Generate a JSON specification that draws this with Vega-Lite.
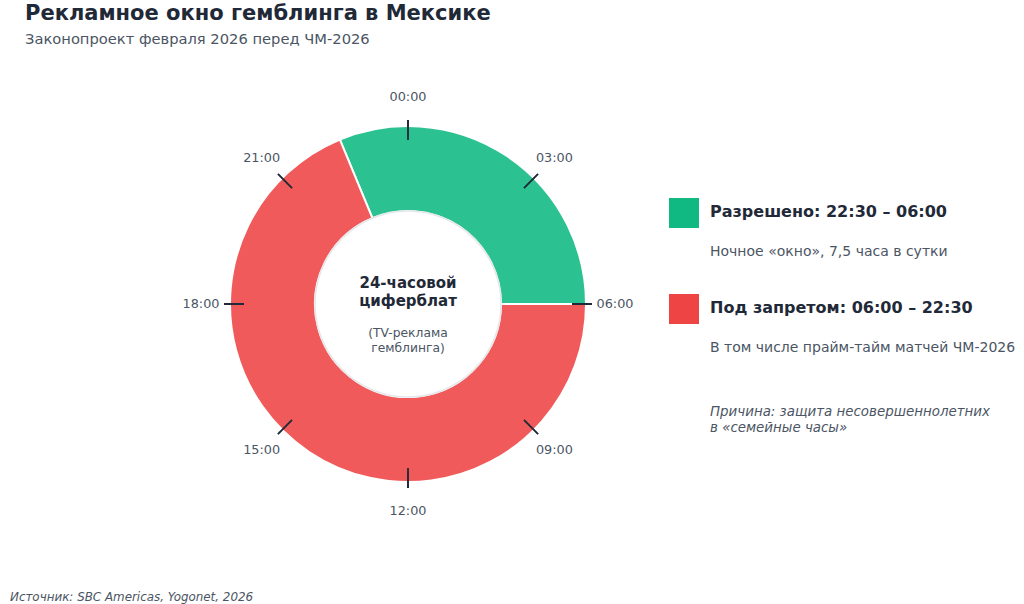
{
  "$schema": "https://vega.github.io/schema/vega-lite/v6.json",
  "width": 1024,
  "height": 604,
  "autosize": {"type": "fit", "contains": "padding"},
  "padding": {"left": 0, "right": 0, "top": 3, "bottom": 0},
  "background": "#ffffff",
  "view": {"stroke": null},
  "config": {"font": "DejaVu Sans"},
  "title": {
    "text": "Рекламное окно гемблинга в Мексике",
    "subtitle": "Законопроект февраля 2026 перед ЧМ-2026",
    "anchor": "start",
    "frame": "group",
    "dx": 25,
    "offset": 3,
    "font": "DejaVu Sans",
    "fontSize": 21,
    "fontWeight": "bold",
    "color": "#1f2937",
    "subtitleFont": "DejaVu Sans",
    "subtitleFontSize": 14.7,
    "subtitleColor": "#4b5563",
    "subtitlePadding": 8
  },
  "datasets": {
    "segments": [
      {"status": "Разрешено", "hours": 7.5},
      {"status": "Под запретом", "hours": 16.5}
    ],
    "clock": [
      {"hour": 0, "label": "00:00"},
      {"hour": 3, "label": "03:00"},
      {"hour": 6, "label": "06:00"},
      {"hour": 9, "label": "09:00"},
      {"hour": 12, "label": "12:00"},
      {"hour": 15, "label": "15:00"},
      {"hour": 18, "label": "18:00"},
      {"hour": 21, "label": "21:00"}
    ]
  },
  "data": {"values": [{}]},
  "resolve": {"scale": {"theta": "independent", "color": "independent"}},
  "layer": [
    {
      "data": {"name": "segments"},
      "mark": {"type": "arc", "innerRadius": 93, "outerRadius": 178, "stroke": "#ffffff", "strokeWidth": 2, "opacity": 0.88},
      "encoding": {
        "x": {"datum": 408, "type": "quantitative", "scale": {"domain": [0, 1024], "nice": false, "zero": false}, "axis": null},
        "y": {"datum": 304, "type": "quantitative", "scale": {"domain": [50, 604], "nice": false, "zero": false, "reverse": true}, "axis": null},
        "theta": {"field": "hours", "type": "quantitative", "stack": true, "scale": {"domain": [0, 24], "range": [-0.3927, 5.8905]}},
        "order": {"field": "hours", "type": "quantitative", "sort": "ascending"},
        "color": {"field": "status", "type": "nominal", "scale": {"domain": ["Разрешено", "Под запретом"], "range": ["#10B981", "#EF4444"]}, "legend": null}
      }
    },
    {
      "mark": {"type": "point", "shape": "circle", "filled": true, "size": 34596, "fill": "#ffffff", "stroke": "#e5e7eb", "strokeWidth": 1.5, "opacity": 1},
      "encoding": {
        "x": {"datum": 408, "type": "quantitative", "scale": {"domain": [0, 1024], "nice": false, "zero": false}, "axis": null},
        "y": {"datum": 304, "type": "quantitative", "scale": {"domain": [50, 604], "nice": false, "zero": false, "reverse": true}, "axis": null}
      }
    },
    {
      "data": {"name": "clock"},
      "mark": {"type": "arc", "innerRadius": 164, "outerRadius": 184, "thetaOffset": -0.0055, "theta2Offset": 0.0055, "color": "#1f2937"},
      "encoding": {
        "x": {"datum": 408, "type": "quantitative", "scale": {"domain": [0, 1024], "nice": false, "zero": false}, "axis": null},
        "y": {"datum": 304, "type": "quantitative", "scale": {"domain": [50, 604], "nice": false, "zero": false, "reverse": true}, "axis": null},
        "theta": {"field": "hour", "type": "quantitative", "scale": {"domain": [0, 24], "range": [0, 6.283185]}},
        "theta2": {"field": "hour"}
      }
    },
    {
      "data": {"name": "clock"},
      "mark": {"type": "text", "radius": 207, "fontSize": 12.8, "color": "#4b5563", "align": "center", "baseline": "middle"},
      "encoding": {
        "x": {"datum": 408, "type": "quantitative", "scale": {"domain": [0, 1024], "nice": false, "zero": false}, "axis": null},
        "y": {"datum": 304, "type": "quantitative", "scale": {"domain": [50, 604], "nice": false, "zero": false, "reverse": true}, "axis": null},
        "theta": {"field": "hour", "type": "quantitative", "scale": {"domain": [0, 24], "range": [0, 6.283185]}},
        "text": {"field": "label"}
      }
    },
    {
      "mark": {"type": "text", "text": ["24-часовой", "циферблат"], "lineHeight": 18, "fontSize": 15, "fontWeight": "bold", "color": "#1f2937", "align": "center", "baseline": "middle"},
      "encoding": {
        "x": {"datum": 408, "type": "quantitative", "scale": {"domain": [0, 1024], "nice": false, "zero": false}, "axis": null},
        "y": {"datum": 283, "type": "quantitative", "scale": {"domain": [50, 604], "nice": false, "zero": false, "reverse": true}, "axis": null}
      }
    },
    {
      "mark": {"type": "text", "text": ["(TV-реклама", "гемблинга)"], "lineHeight": 15, "fontSize": 12.3, "color": "#4b5563", "align": "center", "baseline": "middle"},
      "encoding": {
        "x": {"datum": 408, "type": "quantitative", "scale": {"domain": [0, 1024], "nice": false, "zero": false}, "axis": null},
        "y": {"datum": 333, "type": "quantitative", "scale": {"domain": [50, 604], "nice": false, "zero": false, "reverse": true}, "axis": null}
      }
    },
    {
      "mark": {"type": "point", "shape": "square", "filled": true, "size": 900, "color": "#10B981", "opacity": 1},
      "encoding": {
        "x": {"datum": 684, "type": "quantitative", "scale": {"domain": [0, 1024], "nice": false, "zero": false}, "axis": null},
        "y": {"datum": 213, "type": "quantitative", "scale": {"domain": [50, 604], "nice": false, "zero": false, "reverse": true}, "axis": null}
      }
    },
    {
      "mark": {"type": "point", "shape": "square", "filled": true, "size": 900, "color": "#EF4444", "opacity": 1},
      "encoding": {
        "x": {"datum": 684, "type": "quantitative", "scale": {"domain": [0, 1024], "nice": false, "zero": false}, "axis": null},
        "y": {"datum": 309, "type": "quantitative", "scale": {"domain": [50, 604], "nice": false, "zero": false, "reverse": true}, "axis": null}
      }
    },
    {
      "mark": {"type": "text", "text": "Разрешено: 22:30 – 06:00", "fontSize": 16, "fontWeight": "bold", "color": "#1f2937", "align": "left", "baseline": "middle"},
      "encoding": {
        "x": {"datum": 710, "type": "quantitative", "scale": {"domain": [0, 1024], "nice": false, "zero": false}, "axis": null},
        "y": {"datum": 212, "type": "quantitative", "scale": {"domain": [50, 604], "nice": false, "zero": false, "reverse": true}, "axis": null}
      }
    },
    {
      "mark": {"type": "text", "text": "Ночное «окно», 7,5 часа в сутки", "fontSize": 14, "color": "#4b5563", "align": "left", "baseline": "middle"},
      "encoding": {
        "x": {"datum": 710, "type": "quantitative", "scale": {"domain": [0, 1024], "nice": false, "zero": false}, "axis": null},
        "y": {"datum": 252, "type": "quantitative", "scale": {"domain": [50, 604], "nice": false, "zero": false, "reverse": true}, "axis": null}
      }
    },
    {
      "mark": {"type": "text", "text": "Под запретом: 06:00 – 22:30", "fontSize": 16, "fontWeight": "bold", "color": "#1f2937", "align": "left", "baseline": "middle"},
      "encoding": {
        "x": {"datum": 710, "type": "quantitative", "scale": {"domain": [0, 1024], "nice": false, "zero": false}, "axis": null},
        "y": {"datum": 308, "type": "quantitative", "scale": {"domain": [50, 604], "nice": false, "zero": false, "reverse": true}, "axis": null}
      }
    },
    {
      "mark": {"type": "text", "text": "В том числе прайм-тайм матчей ЧМ-2026", "fontSize": 14, "color": "#4b5563", "align": "left", "baseline": "middle"},
      "encoding": {
        "x": {"datum": 710, "type": "quantitative", "scale": {"domain": [0, 1024], "nice": false, "zero": false}, "axis": null},
        "y": {"datum": 348, "type": "quantitative", "scale": {"domain": [50, 604], "nice": false, "zero": false, "reverse": true}, "axis": null}
      }
    },
    {
      "mark": {"type": "text", "text": ["Причина: защита несовершеннолетних", "в «семейные часы»"], "lineHeight": 15.5, "fontSize": 13.4, "fontStyle": "italic", "color": "#4b5563", "align": "left", "baseline": "middle"},
      "encoding": {
        "x": {"datum": 710, "type": "quantitative", "scale": {"domain": [0, 1024], "nice": false, "zero": false}, "axis": null},
        "y": {"datum": 412, "type": "quantitative", "scale": {"domain": [50, 604], "nice": false, "zero": false, "reverse": true}, "axis": null}
      }
    },
    {
      "mark": {"type": "text", "text": "Источник: SBC Americas, Yogonet, 2026", "fontSize": 11.9, "fontStyle": "italic", "color": "#4b5563", "align": "left", "baseline": "middle"},
      "encoding": {
        "x": {"datum": 10, "type": "quantitative", "scale": {"domain": [0, 1024], "nice": false, "zero": false}, "axis": null},
        "y": {"datum": 597, "type": "quantitative", "scale": {"domain": [50, 604], "nice": false, "zero": false, "reverse": true}, "axis": null}
      }
    }
  ]
}
